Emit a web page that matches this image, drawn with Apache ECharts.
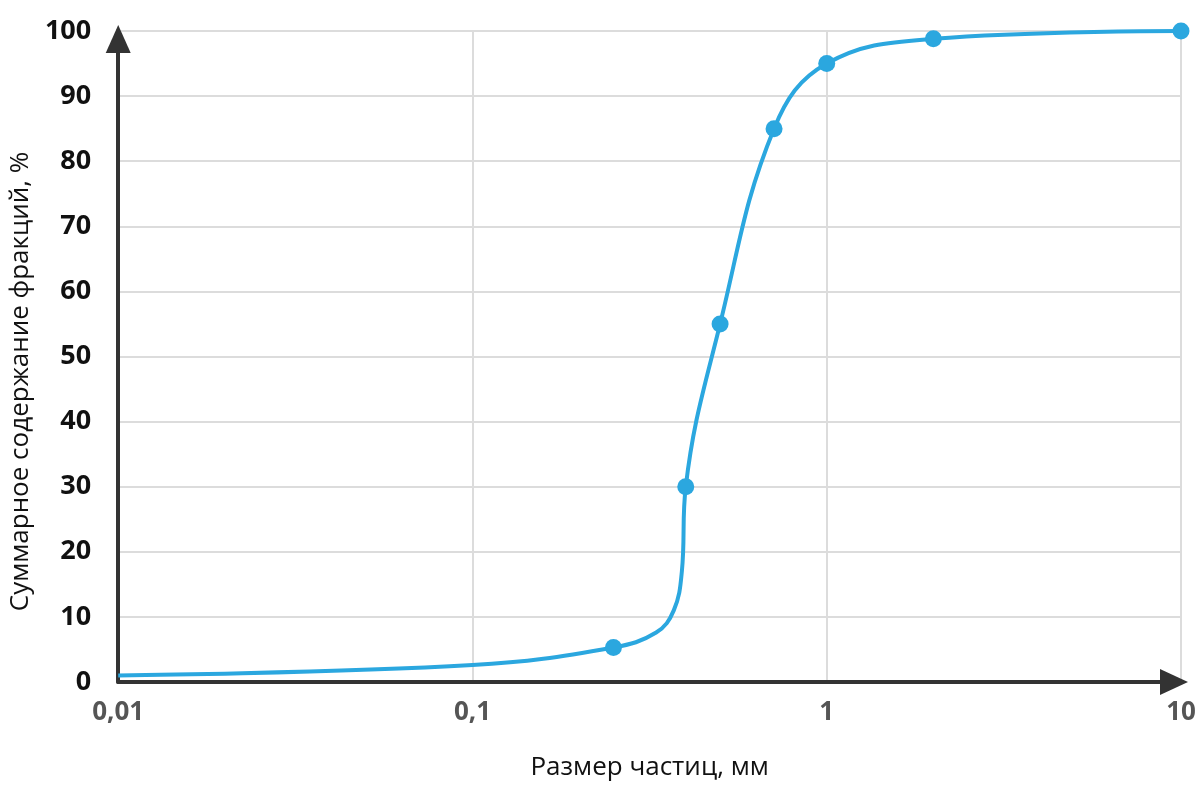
<!DOCTYPE html>
<html>
<head>
<meta charset="utf-8">
<script src="https://cdn.jsdelivr.net/npm/echarts@6/dist/echarts.min.js"></script>
<style>html,body{margin:0;padding:0;background:#fff}#chart{width:1200px;height:800px}</style>
</head>
<body>
<div id="chart"></div>
<script>
// Curve (includes unmarked points that shape the line)
const curveSize = [0.01, 0.1, 0.25, 0.33, 0.37, 0.39, 0.4, 0.5, 0.71, 1, 2, 10];
const curvePercent = [1.0, 2.6, 5.3, 7.6, 11, 17, 30, 55, 85, 95, 98.8, 100];
// Marked points
const pointSize = [0.25, 0.4, 0.5, 0.71, 1, 2, 10];
const pointPercent = [5.3, 30, 55, 85, 95, 98.8, 100];

const FONT = '"Open Sans", "Noto Sans", sans-serif';
const BLUE = '#2ba7df';
const chart = echarts.init(document.getElementById('chart'));
chart.setOption({
  animation: false,
  grid: { left: 114, right: 19, top: 31, bottom: 118 },
  xAxis: {
    type: 'log', logBase: 10, min: 0.01, max: 10,
    name: 'Размер частиц, мм', nameLocation: 'middle', nameGap: 73,
    nameTextStyle: { fontFamily: FONT, fontSize: 26, color: '#111' },
    axisLine: { show: true, symbol: ['none', 'triangle'], symbolSize: [26, 28], symbolOffset: [0, -7],
      lineStyle: { color: '#333', width: 4 } },
    axisTick: { show: false },
    axisLabel: { margin: 18, fontFamily: FONT, fontWeight: 'bold', fontSize: 26, color: '#555',
      formatter: v => String(v).replace('.', ',') },
    splitLine: { show: true, lineStyle: { color: '#dcdcdc', width: 2 } },
    minorTick: { show: false }
  },
  yAxis: {
    type: 'value', min: 0, max: 100, interval: 10,
    name: 'Суммарное содержание фракций, %', nameLocation: 'middle', nameGap: 82,
    nameTextStyle: { fontFamily: FONT, fontSize: 26, color: '#111', padding: [0, 50, 0, 0] },
    axisLine: { show: true, symbol: ['none', 'triangle'], symbolSize: [25, 28], symbolOffset: [0, -8],
      lineStyle: { color: '#333', width: 4 } },
    axisTick: { show: false },
    axisLabel: { margin: 27, fontFamily: FONT, fontWeight: 'bold', fontSize: 27, color: '#111' },
    splitLine: { show: true, lineStyle: { color: '#dcdcdc', width: 2 } }
  },
  series: [
    {
      type: 'line', smooth: 0.4, showSymbol: false,
      data: curveSize.map((x, i) => [x, curvePercent[i]]),
      lineStyle: { color: BLUE, width: 4 }, z: 3
    },
    {
      type: 'scatter', symbol: 'circle', symbolSize: 17,
      data: pointSize.map((x, i) => [x, pointPercent[i]]),
      itemStyle: { color: BLUE, opacity: 1 }, z: 4
    }
  ]
});
</script>
</body>
</html>
